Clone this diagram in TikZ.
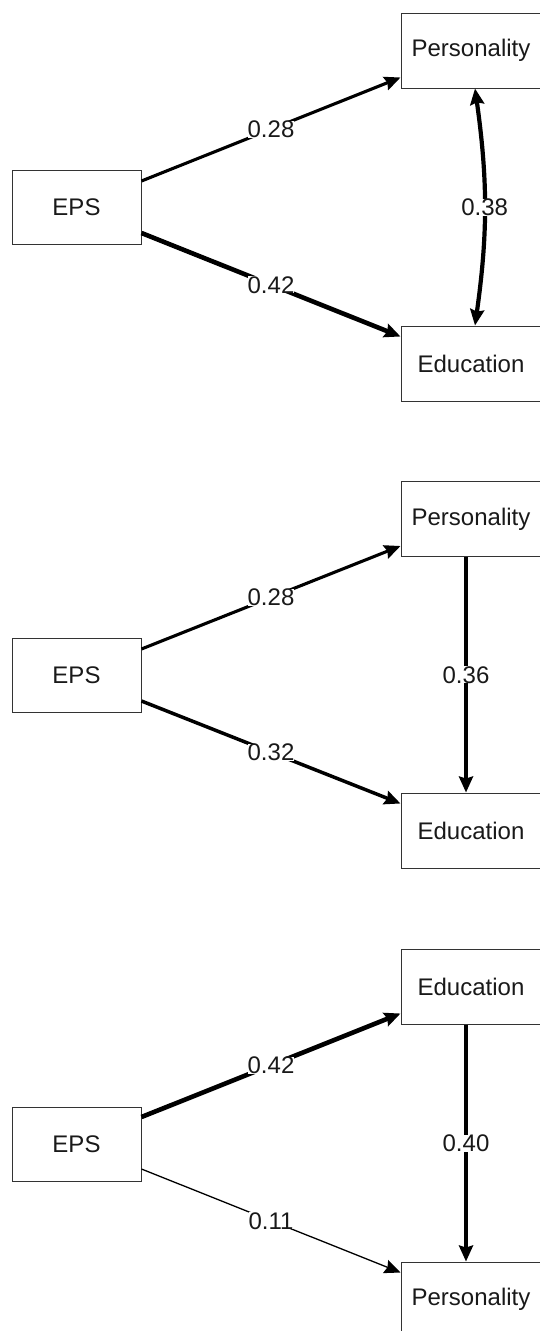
\documentclass[tikz,border=0pt]{standalone}
\usepackage{fontspec}
\setmainfont{Liberation Sans}
\usetikzlibrary{arrows.meta, calc}
\tikzset{
    box node/.style={rectangle, draw=black!80, line width=1pt, minimum width=140pt, minimum height=75pt, inner sep=2pt, text=black!90, font=\fontsize{24}{28}\selectfont},
    eps node/.style={box node, minimum width=129pt, minimum height=74pt},
    coef/.style={fill=white, inner sep=0pt, text=black!90, font=\fontsize{24}{28}\selectfont},
    wt/.style={line width=#1pt}
}

\begin{document}
\begin{tikzpicture}[x=1pt, y=-1pt, >={Stealth[length=16pt, width=14pt, inset=2pt]}]
% Three path models of EPS, personality and education, stacked.
  \useasboundingbox (0,0) rectangle (539,1331);
  \node[eps node] (eps1) at (76.5, 207) {EPS};
  \node[box node] (pers1) at (471, 50.5) {Personality};
  \node[box node] (edu1) at (471, 363.5) {Education};
  \draw[->, wt=3.1] ([yshift=26pt]eps1.east) -- node[coef] {0.28} ([yshift=-27pt]pers1.west);
  \draw[->, wt=4.6] ([yshift=-26pt]eps1.east) -- node[coef] {0.42} ([yshift=27pt]edu1.west);
  \draw[<->, wt=4.2] ([xshift=4pt]pers1.south) to[bend left=8] node[coef] {0.38} ([xshift=4pt]edu1.north);

  \node[eps node] (eps2) at (76.5, 675) {EPS};
  \node[box node] (pers2) at (471, 519) {Personality};
  \node[box node] (edu2) at (471, 830.5) {Education};
  \draw[->, wt=3.1] ([yshift=26pt]eps2.east) -- node[coef] {0.28} ([yshift=-27pt]pers2.west);
  \draw[->, wt=3.5] ([yshift=-26pt]eps2.east) -- node[coef] {0.32} ([yshift=27pt]edu2.west);
  \draw[->, wt=4.0] ([xshift=-5pt]pers2.south) -- node[coef] {0.36} ([xshift=-5pt]edu2.north);

  \node[eps node] (eps3) at (76.5, 1144) {EPS};
  \node[box node] (edu3) at (471, 986.5) {Education};
  \node[box node] (pers3) at (471, 1299.5) {Personality};
  \draw[->, wt=4.6] ([yshift=27pt]eps3.east) -- node[coef] {0.42} ([yshift=-27pt]edu3.west);
  \draw[->, wt=1.3] ([yshift=-25pt]eps3.east) -- node[coef] {0.11} ([yshift=27pt]pers3.west);
  \draw[->, wt=4.4] ([xshift=-5pt]edu3.south) -- node[coef] {0.40} ([xshift=-5pt]pers3.north);
\end{tikzpicture}
\end{document}
